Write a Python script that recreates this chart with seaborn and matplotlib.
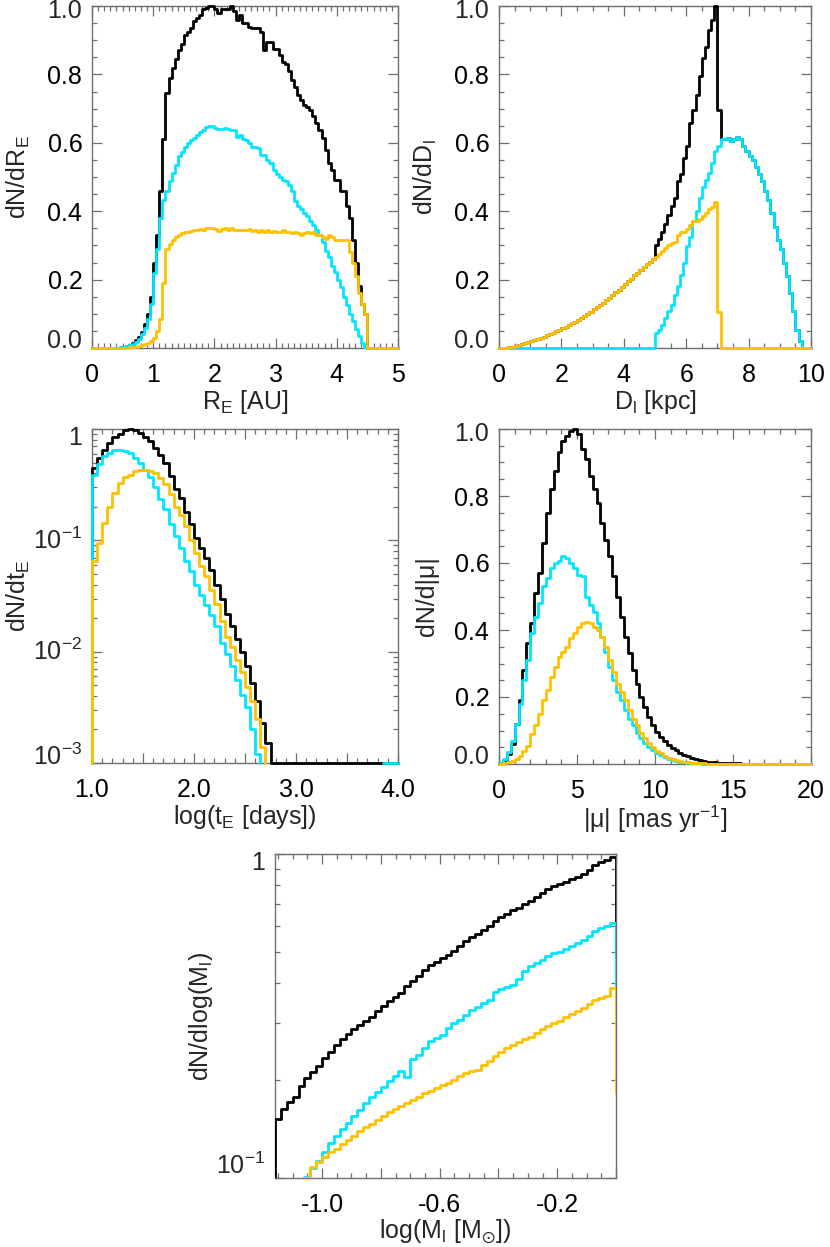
import numpy as np
import pandas as pd
import matplotlib
matplotlib.use("Agg")
import matplotlib.pyplot as plt
from matplotlib.ticker import MultipleLocator, FuncFormatter, FixedLocator, NullFormatter
import seaborn as sns

## histogram values (black = all, cyan, yellow)
## panel 1: R_E, bins of 0.05 AU from 0 to 5
re_black = [0, 0, 0, 0, 0, 0, 0, 0, 0, 0.002,
            0.004, 0.006, 0.01, 0.015, 0.022, 0.033, 0.048, 0.07, 0.10, 0.15,
            0.25, 0.33, 0.46, 0.61, 0.745, 0.79, 0.82, 0.845, 0.87, 0.89,
            0.915, 0.925, 0.935, 0.955, 0.965, 0.975, 0.99, 0.995, 1.0, 1.0,
            0.99, 0.98, 0.99, 0.99, 0.99, 1.0, 0.985, 0.96, 0.975, 0.95,
            0.95, 0.94, 0.935, 0.935, 0.935, 0.925, 0.87, 0.895, 0.895, 0.875,
            0.875, 0.857, 0.837, 0.83, 0.81, 0.784, 0.764, 0.74, 0.725, 0.71,
            0.705, 0.696, 0.677, 0.657, 0.638, 0.613, 0.58, 0.54, 0.52, 0.49,
            0.49, 0.46, 0.46, 0.414, 0.38, 0.316, 0.248, 0.18, 0.13, 0.10,
            0, 0, 0, 0, 0, 0, 0, 0, 0, 0]
re_cyan = [0, 0, 0, 0, 0, 0, 0, 0, 0, 0.002,
           0.003, 0.005, 0.008, 0.012, 0.018, 0.027, 0.04, 0.058, 0.085, 0.13,
           0.22, 0.29, 0.38, 0.433, 0.458, 0.487, 0.511, 0.536, 0.56, 0.574,
           0.589, 0.599, 0.609, 0.615, 0.623, 0.633, 0.638, 0.646, 0.649, 0.649,
           0.643, 0.64, 0.64, 0.643, 0.64, 0.638, 0.636, 0.618, 0.623, 0.61,
           0.609, 0.599, 0.589, 0.589, 0.584, 0.565, 0.565, 0.55, 0.54, 0.521,
           0.51, 0.501, 0.492, 0.487, 0.477, 0.458, 0.43, 0.415, 0.405, 0.395,
           0.385, 0.37, 0.36, 0.346, 0.331, 0.31, 0.285, 0.265, 0.24, 0.222,
           0.20, 0.178, 0.15, 0.125, 0.10, 0.078, 0.055, 0.035, 0.015, 0.003,
           0, 0, 0, 0, 0, 0, 0, 0, 0, 0]
re_yellow = [0, 0, 0, 0, 0, 0, 0, 0, 0, 0,
             0, 0, 0.002, 0.003, 0.004, 0.006, 0.008, 0.011, 0.015, 0.02,
             0.03, 0.05, 0.085, 0.19, 0.29, 0.305, 0.315, 0.325, 0.33, 0.335,
             0.34, 0.34, 0.342, 0.345, 0.345, 0.348, 0.345, 0.35, 0.35, 0.352,
             0.348, 0.343, 0.348, 0.35, 0.346, 0.35, 0.345, 0.346, 0.345, 0.346,
             0.344, 0.348, 0.343, 0.346, 0.34, 0.345, 0.338, 0.344, 0.34, 0.342,
             0.338, 0.34, 0.345, 0.34, 0.338, 0.335, 0.34, 0.336, 0.33, 0.335,
             0.34, 0.335, 0.338, 0.33, 0.33, 0.325, 0.32, 0.33, 0.325, 0.315,
             0.315, 0.315, 0.315, 0.315, 0.28, 0.25, 0.21, 0.16, 0.13, 0.10,
             0, 0, 0, 0, 0, 0, 0, 0, 0, 0]

## panel 2: D_l, bins of 0.1 kpc from 0 to 10
dl_black = [0, 0, 0, 0.002, 0.004, 0.006, 0.008, 0.011, 0.014, 0.017,
            0.02, 0.023, 0.026, 0.03, 0.033, 0.037, 0.041, 0.045, 0.049, 0.053,
            0.058, 0.062, 0.067, 0.072, 0.077, 0.083, 0.088, 0.094, 0.10, 0.106,
            0.113, 0.119, 0.126, 0.133, 0.14, 0.147, 0.155, 0.163, 0.171, 0.179,
            0.187, 0.195, 0.203, 0.212, 0.22, 0.229, 0.238, 0.245, 0.252, 0.26,
            0.30, 0.32, 0.34, 0.363, 0.39, 0.414, 0.44, 0.487, 0.51, 0.555,
            0.59, 0.657, 0.696, 0.74, 0.794, 0.847, 0.88, 0.93, 0.96, 1.0,
            0.696, 0.61, 0.61, 0.615, 0.604, 0.61, 0.618, 0.612, 0.59, 0.575,
            0.56, 0.55, 0.53, 0.51, 0.487, 0.46, 0.433, 0.394, 0.355, 0.316,
            0.29, 0.25, 0.21, 0.16, 0.107, 0.054, 0.02, 0, 0, 0]
dl_cyan = [0, 0, 0, 0, 0, 0, 0, 0, 0, 0,
           0, 0, 0, 0, 0, 0, 0, 0, 0, 0,
           0, 0, 0, 0, 0, 0, 0, 0, 0, 0,
           0, 0, 0, 0, 0, 0, 0, 0, 0, 0,
           0, 0, 0, 0, 0, 0, 0, 0, 0, 0,
           0.044, 0.054, 0.068, 0.088, 0.107, 0.127, 0.156, 0.18, 0.214, 0.248,
           0.297, 0.326, 0.37, 0.40, 0.438, 0.472, 0.492, 0.511, 0.54, 0.575,
           0.59, 0.61, 0.61, 0.615, 0.604, 0.61, 0.618, 0.612, 0.59, 0.575,
           0.56, 0.55, 0.53, 0.51, 0.487, 0.46, 0.433, 0.394, 0.355, 0.316,
           0.29, 0.25, 0.21, 0.16, 0.107, 0.054, 0.02, 0, 0, 0]
dl_yellow = [0, 0, 0, 0.002, 0.004, 0.006, 0.008, 0.011, 0.014, 0.017,
             0.02, 0.023, 0.026, 0.03, 0.033, 0.037, 0.041, 0.045, 0.049, 0.053,
             0.058, 0.062, 0.067, 0.072, 0.077, 0.083, 0.088, 0.094, 0.10, 0.106,
             0.113, 0.119, 0.126, 0.133, 0.14, 0.147, 0.155, 0.163, 0.171, 0.179,
             0.187, 0.195, 0.203, 0.212, 0.22, 0.229, 0.238, 0.245, 0.252, 0.26,
             0.265, 0.275, 0.285, 0.293, 0.302, 0.306, 0.31, 0.33, 0.338, 0.34,
             0.348, 0.36, 0.37, 0.372, 0.378, 0.385, 0.395, 0.405, 0.413, 0.428,
             0.105, 0, 0, 0, 0, 0, 0, 0, 0, 0,
             0, 0, 0, 0, 0, 0, 0, 0, 0, 0,
             0, 0, 0, 0, 0, 0, 0, 0, 0, 0]

## panel 3: log t_E, bins of 0.05 dex from 1 to 4 (nan = not drawn)
te_black = [0.45, 0.55, 0.65, 0.75, 0.84, 0.91, 0.97, 1.0, 0.97, 0.92,
            0.84, 0.78, 0.68, 0.58, 0.49, 0.38, 0.29, 0.24, 0.18, 0.14,
            0.105, 0.085, 0.07, 0.054, 0.04, 0.03, 0.022, 0.017, 0.013, 0.01,
            0.0075, 0.0052, 0.0036, 0.0023, 0.0015, 0, 0, 0, 0, 0,
            0, 0, 0, 0, 0, 0, 0, 0, 0, 0,
            0, 0, 0, 0, 0, 0, 0, 0, 0, 0]
te_cyan = [0.39, 0.48, 0.57, 0.61, 0.65, 0.65, 0.64, 0.61, 0.55, 0.50,
           0.43, 0.37, 0.30, 0.235, 0.19, 0.14, 0.11, 0.086, 0.065, 0.053,
           0.040, 0.032, 0.026, 0.0215, 0.017, 0.012, 0.0095, 0.0075, 0.0056, 0.0041,
           0.0032, 0.002, 0.0012] + [np.nan] * 24 + [0, 0, 0]
te_yellow = [0.065, 0.095, 0.144, 0.20, 0.268, 0.33, 0.37, 0.39, 0.42, 0.43,
             0.43, 0.42, 0.40, 0.366, 0.318, 0.26, 0.20, 0.17, 0.134, 0.10,
             0.077, 0.059, 0.048, 0.036, 0.027, 0.019, 0.0135, 0.011, 0.0085, 0.0065,
             0.0048, 0.0036, 0.0025, 0.0014] + [np.nan] * 26

## panel 4: |mu|, bins of 0.25 mas/yr from 0 to 20
mu_black = [0.003, 0.012, 0.03, 0.06, 0.12, 0.19, 0.28, 0.36, 0.42, 0.51,
            0.57, 0.66, 0.75, 0.82, 0.875, 0.93, 0.965, 0.98, 0.995, 1.0,
            0.985, 0.94, 0.91, 0.86, 0.82, 0.78, 0.72, 0.67, 0.62, 0.56,
            0.50, 0.44, 0.38, 0.33, 0.28, 0.24, 0.20, 0.17, 0.14, 0.115,
            0.095, 0.08, 0.068, 0.057, 0.048, 0.041, 0.034, 0.028, 0.023, 0.018,
            0.014, 0.011, 0.009, 0.007, 0.0055, 0.0045, 0.0035, 0.003, 0.0025, 0.002,
            0.0018, 0.0015, 0.0013, 0.0011, 0.001, 0.0008, 0.0007, 0.0006, 0.0005, 0.0004,
            0.0004, 0.0003, 0.0003, 0.0002, 0.0002, 0.0002, 0.0001, 0.0001, 0.0001, 0.0001]
mu_cyan = [0.004, 0.014, 0.035, 0.07, 0.12, 0.18, 0.25, 0.31, 0.39, 0.44,
           0.48, 0.53, 0.555, 0.585, 0.60, 0.605, 0.62, 0.615, 0.60, 0.585,
           0.565, 0.56, 0.50, 0.475, 0.455, 0.42, 0.38, 0.335, 0.29, 0.25,
           0.215, 0.19, 0.16, 0.135, 0.115, 0.093, 0.077, 0.063, 0.051, 0.041,
           0.033, 0.026, 0.02, 0.016, 0.012, 0.009, 0.007, 0.005, 0.004, 0.003,
           0.002, 0.0015, 0.001, 0.0008, 0.0006, 0.0005, 0.0004, 0.0003, 0.0002, 0.0002,
           0.0001, 0.0001, 0.0001, 0.0001, 0, 0, 0, 0, 0, 0,
           0, 0, 0, 0, 0, 0, 0, 0, 0, 0]
mu_yellow = [0.001, 0.003, 0.006, 0.01, 0.016, 0.025, 0.038, 0.055, 0.09, 0.115,
             0.15, 0.19, 0.22, 0.26, 0.29, 0.32, 0.335, 0.35, 0.375, 0.39,
             0.41, 0.42, 0.425, 0.42, 0.41, 0.40, 0.38, 0.35, 0.31, 0.275,
             0.24, 0.215, 0.19, 0.16, 0.135, 0.115, 0.093, 0.077, 0.062, 0.05,
             0.04, 0.032, 0.025, 0.019, 0.015, 0.011, 0.008, 0.006, 0.0045, 0.0035,
             0.0025, 0.002, 0.0015, 0.001, 0.0008, 0.0006, 0.0005, 0.0004, 0.0003, 0.0003,
             0.0002, 0.0002, 0.0002, 0.0001, 0.0001, 0.0001, 0, 0, 0, 0,
             0, 0, 0, 0, 0, 0, 0, 0, 0, 0]

## panel 5: log M_l, bins of 0.02 dex from -1.16 (last bin sits past the axis edge)
ml_black = [0.152, 0.163, 0.172, 0.178, 0.192, 0.203, 0.213, 0.221, 0.234, 0.245,
            0.258, 0.268, 0.279, 0.288, 0.297, 0.305, 0.315, 0.328, 0.34, 0.351,
            0.362, 0.372, 0.39, 0.405, 0.42, 0.438, 0.454, 0.465, 0.478, 0.489,
            0.502, 0.52, 0.538, 0.553, 0.568, 0.582, 0.6, 0.622, 0.641, 0.655,
            0.67, 0.683, 0.70, 0.718, 0.737, 0.758, 0.78, 0.795, 0.806, 0.817,
            0.835, 0.852, 0.87, 0.895, 0.925, 0.942, 0.955, 0.98, 0.48]
ml_cyan = [0, 0, 0, 0, 0, 0.101, 0.107, 0.113, 0.12, 0.128,
           0.135, 0.142, 0.148, 0.155, 0.162, 0.17, 0.178, 0.184, 0.191, 0.199,
           0.207, 0.214, 0.205, 0.233, 0.24, 0.252, 0.265, 0.27, 0.276, 0.29,
           0.3, 0.308, 0.318, 0.33, 0.338, 0.346, 0.355, 0.375, 0.382, 0.388,
           0.395, 0.41, 0.435, 0.452, 0.46, 0.472, 0.486, 0.494, 0.5, 0.51,
           0.52, 0.53, 0.543, 0.56, 0.578, 0.59, 0.6, 0.612, 0.30]
ml_yellow = [0, 0, 0, 0, 0, 0.1, 0.108, 0.112, 0.116, 0.12,
             0.123, 0.127, 0.131, 0.135, 0.14, 0.144, 0.147, 0.151, 0.155, 0.16,
             0.163, 0.167, 0.17, 0.174, 0.178, 0.183, 0.186, 0.19, 0.193, 0.196,
             0.2, 0.206, 0.211, 0.214, 0.216, 0.224, 0.23, 0.238, 0.245, 0.252,
             0.258, 0.262, 0.268, 0.273, 0.28, 0.288, 0.295, 0.3, 0.306, 0.315,
             0.32, 0.328, 0.335, 0.345, 0.355, 0.36, 0.365, 0.385, 0.183]

edges_re = np.linspace(0, 5, 101)
edges_dl = np.linspace(0, 10, 101)
edges_te = np.linspace(1, 4, 61)
edges_mu = np.linspace(0, 20, 81)
edges_ml = np.linspace(-1.16, 0.02, 60)

BLACK = "black"
CYAN = "#00E6FF"
YELLOW = "#FFC000"
FRAME = "#6e6e6e"
LW = 2.0
FS = 18

sns.set_style("ticks")
plt.rcParams["font.family"] = ["Liberation Sans", "DejaVu Sans"]
plt.rcParams["mathtext.fontset"] = "custom"
plt.rcParams["mathtext.rm"] = "Liberation Sans"
plt.rcParams["mathtext.it"] = "Liberation Sans:italic"
plt.rcParams["mathtext.default"] = "regular"
plt.rcParams["axes.unicode_minus"] = False

W, H = 830, 1247
fig = plt.figure(figsize=(W / 100, H / 100), dpi=100)


def add_panel(x0, y0, x1, y1):
    ax = fig.add_axes([x0 / W, 1 - y1 / H, (x1 - x0) / W, (y1 - y0) / H])
    return ax, x1 - x0, y1 - y0


def draw_hist(ax, edges, vals, color, floor, clip):
    vals = np.asarray(vals, dtype=float)
    idx = np.flatnonzero(np.isfinite(vals))
    runs = np.split(idx, np.where(np.diff(idx) > 1)[0] + 1)
    for r in runs:
        i0, i1 = r[0], r[-1] + 1
        xs = np.r_[edges[i0], edges[i0:i1], edges[i1]]
        ys = np.r_[floor, np.maximum(vals[i0:i1], floor), floor]
        d = pd.DataFrame({"x": xs, "y": ys})
        sns.lineplot(data=d, x="x", y="y", ax=ax, color=color, linewidth=LW,
                     drawstyle="steps-post", estimator=None, sort=False,
                     legend=False, clip_on=clip, zorder=3)


def label_every(first, step, decimals, skip=()):
    def f(v, pos):
        if any(abs(v - s) < 1e-9 for s in skip):
            return ""
        n = (v - first) / step
        if abs(n - round(n)) < 1e-6:
            return f"{v:.{decimals}f}"
        return ""
    return FuncFormatter(f)


def end_label(ax, yval, text, dy):
    # end labels sit a little inside the frame, as in the original
    ax.annotate(text, xy=(0, yval), xycoords=("axes fraction", "data"),
                xytext=(-10, dy), textcoords="offset pixels",
                ha="right", va="center", fontsize=FS)


def style(ax, wpx, hpx, xlabel, ylabel):
    for sp in ax.spines.values():
        sp.set_visible(True)
        sp.set_color(FRAME)
        sp.set_linewidth(1.0)
    ax.tick_params(which="both", direction="in", top=True, right=True,
                   color=FRAME, labelcolor="black", labelsize=FS)
    ax.tick_params(which="major", length=7, width=0.9)
    ax.tick_params(which="minor", length=3.5, width=0.9)
    ax.tick_params(axis="x", which="both", pad=11)
    ax.tick_params(axis="y", which="both", pad=7)
    ax.set_xlabel(xlabel, fontsize=FS)
    ax.set_ylabel(ylabel, fontsize=FS)
    ax.xaxis.set_label_coords(0.5, -40 / hpx)
    ax.yaxis.set_label_coords(-60 / wpx, 0.5)


def lin_y(ax):
    ax.set_ylim(0, 1)
    ax.yaxis.set_major_locator(MultipleLocator(0.2))
    ax.yaxis.set_minor_locator(MultipleLocator(0.05))
    ax.yaxis.set_major_formatter(label_every(0, 0.2, 1, skip=(0.0, 1.0)))
    end_label(ax, 0.0, "0.0", 7)
    end_label(ax, 1.0, "1.0", -5)


def log_y(ax, decades, labels):
    ax.yaxis.set_major_locator(FixedLocator(decades))
    ax.yaxis.set_major_formatter(NullFormatter())
    minors = [m * 10.0 ** d for d in range(-4, 1) for m in range(2, 10)]
    ax.yaxis.set_minor_locator(FixedLocator(minors))
    ax.yaxis.set_minor_formatter(NullFormatter())
    for v, txt, dy in labels:
        end_label(ax, v, txt, dy)


# 1. R_E
ax, w, h = add_panel(92, 6, 398, 348)
for vals, col in [(re_black, BLACK), (re_cyan, CYAN), (re_yellow, YELLOW)]:
    draw_hist(ax, edges_re, vals, col, 0.0, False)
ax.set_xlim(0, 5)
ax.xaxis.set_major_locator(MultipleLocator(1))
ax.xaxis.set_minor_locator(MultipleLocator(0.1))
ax.xaxis.set_major_formatter(label_every(0, 1, 0))
lin_y(ax)
style(ax, w, h, r"R$_{E}$ [AU]", r"dN/dR$_{E}$")

# 2. D_l
ax, w, h = add_panel(499, 6, 811, 348)
for vals, col in [(dl_black, BLACK), (dl_cyan, CYAN), (dl_yellow, YELLOW)]:
    draw_hist(ax, edges_dl, vals, col, 0.0, False)
ax.set_xlim(0, 10)
ax.xaxis.set_major_locator(MultipleLocator(2))
ax.xaxis.set_minor_locator(MultipleLocator(0.5))
ax.xaxis.set_major_formatter(label_every(0, 2, 0))
lin_y(ax)
style(ax, w, h, r"D$_{l}$ [kpc]", r"dN/dD$_{l}$")

# 3. log t_E
ax, w, h = add_panel(92, 429, 398, 763)
for vals, col in [(te_black, BLACK), (te_cyan, CYAN), (te_yellow, YELLOW)]:
    draw_hist(ax, edges_te, vals, col, 1e-3, False)
ax.set_yscale("log")
ax.set_xlim(1, 4)
ax.set_ylim(1e-3, 1)
ax.xaxis.set_major_locator(MultipleLocator(0.5))
ax.xaxis.set_minor_locator(MultipleLocator(0.1))
ax.xaxis.set_major_formatter(label_every(1, 1, 1))
log_y(ax, [1e-3, 1e-2, 1e-1, 1],
      [(1e-3, r"10$^{-3}$", 6), (1e-2, r"10$^{-2}$", 0),
       (1e-1, r"10$^{-1}$", 0), (1.0, "1", -9)])
style(ax, w, h, r"log(t$_{E}$ [days])", r"dN/dt$_{E}$")

# 4. |mu|
ax, w, h = add_panel(499, 429, 811, 764)
for vals, col in [(mu_black, BLACK), (mu_cyan, CYAN), (mu_yellow, YELLOW)]:
    draw_hist(ax, edges_mu, vals, col, 0.0, False)
ax.set_xlim(0, 20)
ax.xaxis.set_major_locator(MultipleLocator(5))
ax.xaxis.set_minor_locator(MultipleLocator(1))
ax.xaxis.set_major_formatter(label_every(0, 5, 0))
lin_y(ax)
style(ax, w, h, r"|μ| [mas yr$^{-1}$]", r"dN/d|μ|")

# 5. log M_l
ax, w, h = add_panel(275, 854, 616, 1178)
for vals, col in [(ml_black, BLACK), (ml_cyan, CYAN), (ml_yellow, YELLOW)]:
    draw_hist(ax, edges_ml, vals, col, 0.05, True)
ax.set_yscale("log")
ax.set_xlim(-1.16, 0.0)
ax.set_ylim(0.1, 1)
ax.xaxis.set_major_locator(MultipleLocator(0.2))
ax.xaxis.set_minor_locator(MultipleLocator(0.05))
ax.xaxis.set_major_formatter(label_every(-1.0, 0.4, 1))
log_y(ax, [0.1, 1], [(0.1, r"10$^{-1}$", 12), (1.0, "1", -9)])
style(ax, w, h, r"log(M$_{l}$ [M$_{\odot}$])", r"dN/dlog(M$_{l}$)")

fig.savefig("out.png", dpi=100)
